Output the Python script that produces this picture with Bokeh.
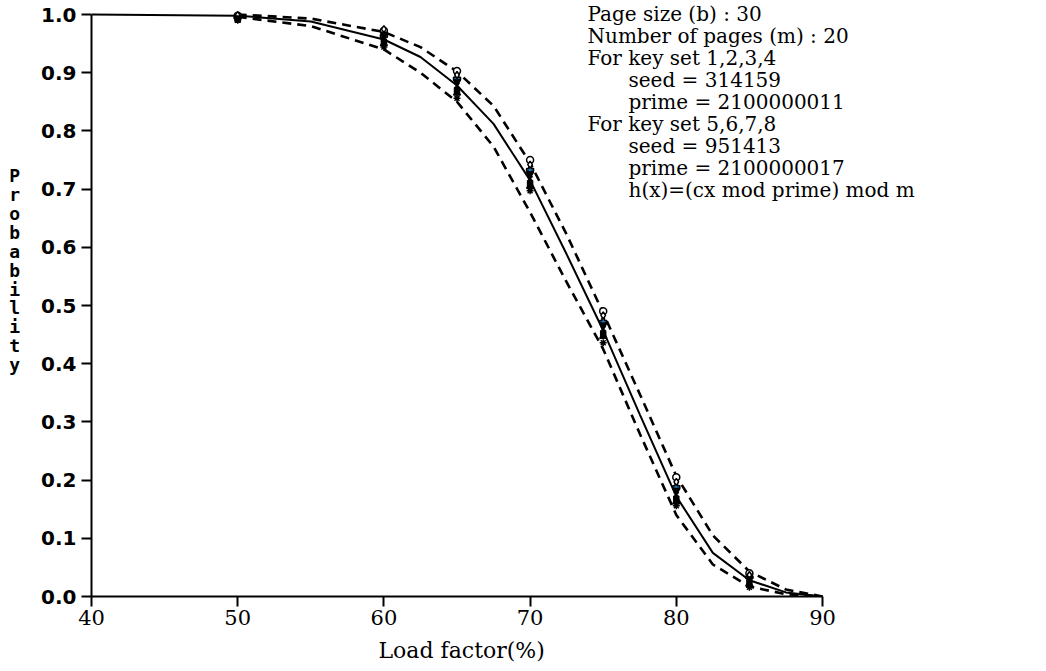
from bokeh.plotting import figure
from bokeh.models import Range1d, FixedTicker, PrintfTickFormatter, Label, Title
from bokeh.embed import file_html
from bokeh.resources import INLINE

# Mean probability curve (solid) over load factor (%)
load_grid = [40, 50, 55, 60, 62.5, 65, 67.5, 70, 72.5, 75, 77.5, 80, 82.5, 85, 87.5, 90]
mean_prob = [1.0, 0.998, 0.988, 0.957, 0.927, 0.878, 0.812, 0.715, 0.588, 0.457,
             0.313, 0.172, 0.075, 0.028, 0.007, 0.0]

# Upper and lower bounds (dashed)
bound_grid = [50, 55, 60, 62.5, 65, 67.5, 70, 72.5, 75, 77.5, 80, 82.5, 85, 87.5, 90]
upper_prob = [1.0, 0.993, 0.970, 0.944, 0.902, 0.843, 0.745, 0.622, 0.487, 0.348,
              0.207, 0.105, 0.043, 0.012, 0.0]
lower_prob = [0.996, 0.980, 0.940, 0.900, 0.850, 0.773, 0.660, 0.540, 0.425, 0.280,
              0.140, 0.055, 0.017, 0.004, 0.0]

# Simulated results for the eight key sets
sample_loads = [50, 60, 65, 70, 75, 80, 85]
key_set_1 = [0.998, 0.972, 0.903, 0.750, 0.490, 0.205, 0.040]
key_set_2 = [0.995, 0.963, 0.890, 0.733, 0.472, 0.188, 0.033]
key_set_3 = [0.993, 0.957, 0.878, 0.718, 0.460, 0.175, 0.028]
key_set_4 = [0.996, 0.950, 0.865, 0.705, 0.447, 0.163, 0.021]
key_set_5 = [0.999, 0.975, 0.896, 0.742, 0.483, 0.197, 0.037]
key_set_6 = [0.991, 0.953, 0.870, 0.710, 0.452, 0.168, 0.024]
key_set_7 = [0.994, 0.966, 0.884, 0.726, 0.466, 0.182, 0.030]
key_set_8 = [0.990, 0.944, 0.856, 0.697, 0.436, 0.156, 0.016]

x_ticks = [40, 50, 60, 70, 80, 90]
y_ticks = [0.0, 0.1, 0.2, 0.3, 0.4, 0.5, 0.6, 0.7, 0.8, 0.9, 1.0]

info_lines = [
    ("Page size (b) : 30", 0),
    ("Number of pages (m) : 20", 0),
    ("For key set 1,2,3,4", 0),
    ("seed = 314159", 1),
    ("prime = 2100000011", 1),
    ("For key set 5,6,7,8", 0),
    ("seed = 951413", 1),
    ("prime = 2100000017", 1),
    ("h(x)=(cx mod prime) mod m", 1),
]
y_title = "Probability"
x_title = "Load factor(%)"

W, H = 1046, 671
LEFT, BOTTOM = 91, 75
AX_X0, AX_X1 = 40, 90          # drawn extent of the x axis
AX_Y0, AX_Y1 = 0.0, 1.0        # drawn extent of the y axis
PX_PER_X = (822 - LEFT) / (AX_X1 - AX_X0)
PX_PER_Y = (H - BOTTOM - 14) / (AX_Y1 - AX_Y0)

# frame fills the canvas right of / above the axes; axes are bounded
x_end = AX_X0 + (W - LEFT) / PX_PER_X
y_end = AX_Y0 + (H - BOTTOM) / PX_PER_Y

p = figure(width=W, height=H, output_backend="svg", toolbar_location=None,
           x_range=Range1d(AX_X0, x_end), y_range=Range1d(AX_Y0, y_end),
           min_border_left=LEFT, min_border_right=0,
           min_border_top=0, min_border_bottom=BOTTOM)
p.outline_line_color = None
p.grid.visible = False
p.background_fill_color = "white"
p.border_fill_color = "white"


def dx(px):
    return AX_X0 + (px - LEFT) / PX_PER_X


def dy(py):
    return AX_Y0 + (H - BOTTOM - py) / PX_PER_Y


# curves
p.line(load_grid, mean_prob, line_color="black", line_width=2)
p.line(bound_grid, upper_prob, line_color="black", line_width=2.6, line_dash="9 6")
p.line(bound_grid, lower_prob, line_color="black", line_width=2.6, line_dash="9 6")

# key set samples
marker_kw = dict(size=7, line_color="black", line_width=1.5)
p.scatter(sample_loads, key_set_1, marker="circle", fill_color="white", **marker_kw)
p.scatter(sample_loads, key_set_2, marker="plus", **marker_kw)
p.scatter(sample_loads, key_set_3, marker="x", **marker_kw)
p.scatter(sample_loads, key_set_4, marker="triangle", fill_color="black", **marker_kw)
p.scatter(sample_loads, key_set_5, marker="diamond", fill_color="white", **marker_kw)
p.scatter(sample_loads, key_set_6, marker="square", fill_color="black", size=5,
          line_color="black", line_width=1.5)
p.scatter(sample_loads, key_set_7, marker="inverted_triangle", fill_color="black", **marker_kw)
p.scatter(sample_loads, key_set_8, marker="asterisk", **marker_kw)

# axes
for ax in (p.xaxis[0], p.yaxis[0]):
    ax.axis_line_color = "black"
    ax.axis_line_width = 2
    ax.major_tick_line_color = "black"
    ax.major_tick_line_width = 2
    ax.major_tick_in = 0
    ax.major_tick_out = 10
    ax.minor_tick_line_color = None
    ax.major_label_text_color = "black"

p.xaxis.bounds = (AX_X0, AX_X1)
p.xaxis.ticker = FixedTicker(ticks=x_ticks)
p.xaxis.major_label_text_font = "DejaVu Serif"
p.xaxis.major_label_text_font_size = "21px"
p.xaxis.major_label_standoff = 3

# x title, placed under the bounded axis rather than the whole frame
p.add_layout(Title(text=x_title, align="left", offset=287, standoff=16,
                   text_font="DejaVu Serif", text_font_style="normal",
                   text_font_size="22px", text_color="black"), "below")

p.yaxis.bounds = (AX_Y0, AX_Y1)
p.yaxis.ticker = FixedTicker(ticks=y_ticks)
p.yaxis.formatter = PrintfTickFormatter(format="%.1f")
p.yaxis.major_label_text_font = "DejaVu Sans"
p.yaxis.major_label_text_font_style = "bold"
p.yaxis.major_label_text_font_size = "20px"
p.yaxis.major_label_standoff = 5

# vertical y title: one letter per row, padded below so the column sits higher
p.yaxis.axis_label = "\n".join(y_title) + "\n \n \n "
p.yaxis.axis_label_orientation = "horizontal"
p.yaxis.axis_label_text_font = "DejaVu Sans Mono"
p.yaxis.axis_label_text_font_style = "bold"
p.yaxis.axis_label_text_font_size = "18px"
p.yaxis.axis_label_text_line_height = 0.9
p.yaxis.axis_label_text_color = "black"
p.yaxis.axis_label_standoff = 18

# parameter block
for i, (txt, indent) in enumerate(info_lines):
    p.add_layout(Label(x=dx(587 + 41 * indent), y=dy(13 + 22 * i), text=txt,
                       text_align="left", text_baseline="alphabetic",
                       text_font="DejaVu Serif", text_font_size="20px",
                       text_color="black"))

open("out.html", "w").write(file_html(p, INLINE))
